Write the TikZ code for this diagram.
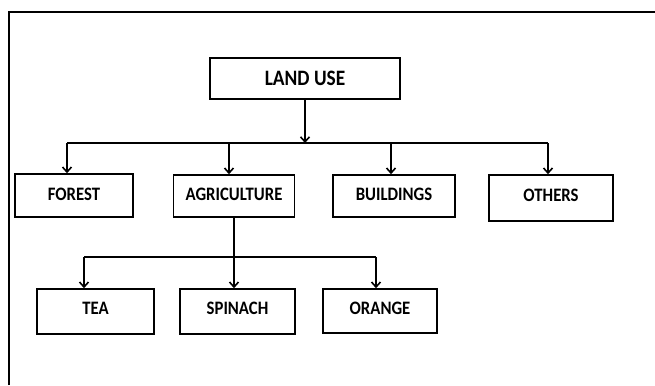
\documentclass[tikz,border=0pt]{standalone}
\usepackage{fontspec}
\setmainfont{Carlito}[FakeStretch=0.88]
\usetikzlibrary{arrows.meta,positioning}
\tikzset{
  >={Straight Barb[length=5pt,width=9pt]},
  box/.style={draw, line width=1.6pt, inner sep=0pt, align=center, text depth=3pt, font=\bfseries\fontsize{19}{22}\selectfont},
  arrow/.style={->, line width=1.6pt},
  bar/.style={line width=1.6pt}
}

\begin{document}
\begin{tikzpicture}[x=1pt, y=-1pt]
\useasboundingbox (0,0) rectangle (655,385);
% frame
\draw[line width=1.2pt] (9,385) -- (9,12) -- (655,12);

% top level
\node[box, minimum width=190pt, minimum height=41pt, text depth=0pt, font=\bfseries\fontsize{22}{25}\selectfont] (landuse) at (305,78.5) {LAND USE};

\node[box, minimum width=118pt, minimum height=43pt] (forest) at (74,195.5) {FOREST};
\node[box, minimum width=121pt, minimum height=42pt] (agri) at (234,196) {AGRICULTURE};
\node[box, minimum width=122pt, minimum height=42pt] (build) at (394,196) {BUILDINGS};
\node[box, minimum width=124pt, minimum height=46pt, text depth=6pt] (others) at (551,198) {OTHERS};

\node[box, minimum width=117pt, minimum height=45pt, text depth=6pt] (tea) at (95.5,311.5) {TEA};
\node[box, minimum width=115pt, minimum height=45pt, text depth=6pt] (spinach) at (237.5,311.5) {SPINACH};
\node[box, minimum width=114pt, minimum height=44pt, text depth=6pt] (orange) at (380,311) {ORANGE};

% first branch
\coordinate (bus1) at (landuse.south |- 0,143);
\coordinate (f1) at (67,143);
\coordinate (o1) at (548,143);
\draw[arrow] (landuse) -- (bus1);
\draw[bar] (f1) -- (o1);
\draw[arrow] (f1) -- (f1 |- forest.north);
\draw[arrow] (229,143) -- (229,0 |- agri.north);
\draw[arrow] (391,143) -- (391,0 |- build.north);
\draw[arrow] (o1) -- (o1 |- others.north);

% second branch
\coordinate (bus2) at (agri.south |- 0,257);
\coordinate (t1) at (84,257);
\coordinate (r1) at (376,257);
\draw[bar] (agri) -- (bus2);
\draw[bar] (t1) -- (r1);
\draw[arrow] (t1) -- (t1 |- tea.north);
\draw[arrow] (bus2) -- (bus2 |- spinach.north);
\draw[arrow] (r1) -- (r1 |- orange.north);
\end{tikzpicture}
\end{document}
